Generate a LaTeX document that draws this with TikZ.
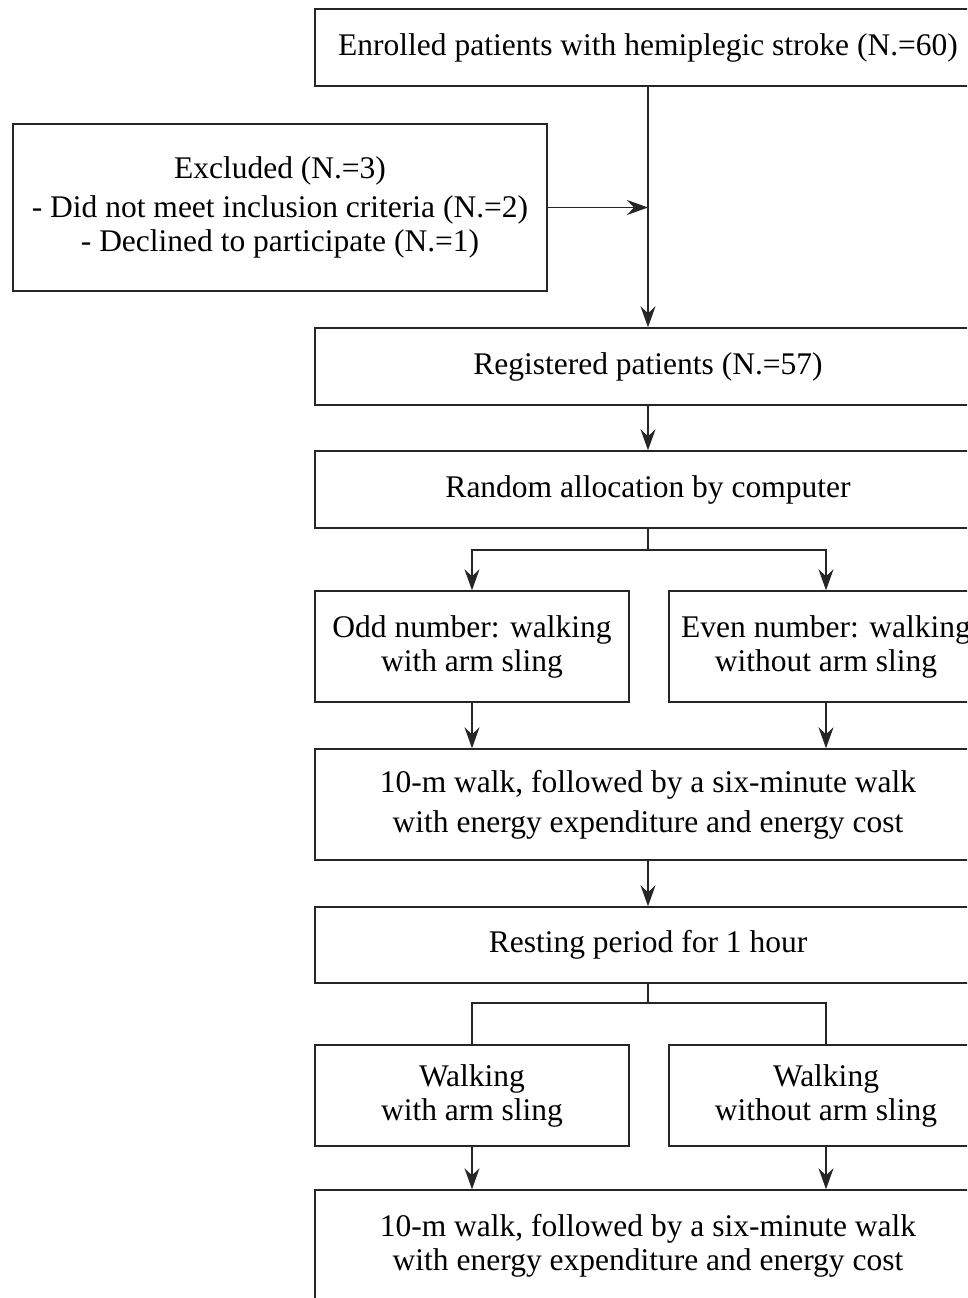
\documentclass[tikz,border=0pt]{standalone}
\usepackage{fontspec}
\setmainfont{Liberation Serif}
\usetikzlibrary{arrows.meta}
\begin{document}
\begin{tikzpicture}[x=1pt,y=-1pt,
  box/.style={draw=black!85,line width=1.4pt,rectangle,inner sep=0pt,align=center,
    font=\fontsize{31.5}{34}\selectfont},
  conn/.style={line width=1.4pt,draw=black!85},
  arr/.style={conn,-{Stealth[length=21pt,width=15pt,inset=7pt]}}]
\useasboundingbox (0,0) rectangle (967,1298);
\clip (0,0) rectangle (967,1298);
\node[box,minimum width=666pt,minimum height=77pt] (enr) at (648,47.5) {Enrolled patients with hemiplegic stroke (N.=60)};
\node[box,minimum width=534pt,minimum height=167pt] (exc) at (280,207.5) {Excluded (N.=3)\\[5pt]- Did not meet inclusion criteria (N.=2)\\- Declined to participate (N.=1)};
\node[box,minimum width=666pt,minimum height=77pt] (reg) at (648,366.5) {Registered patients (N.=57)};
\node[box,minimum width=666pt,minimum height=77pt] (ran) at (648,489.5) {Random allocation by computer};
\node[box,minimum width=314pt,minimum height=111pt] (odd) at (472,646.5) {Odd number: walking\\with arm sling};
\node[box,minimum width=314pt,minimum height=111pt] (even) at (826,646.5) {Even number: walking\\without arm sling};
\node[box,minimum width=666pt,minimum height=111pt] (w1) at (648,804.5) {10-m walk, followed by a six-minute walk\\[6pt]with energy expenditure and energy cost};
\node[box,minimum width=666pt,minimum height=76pt] (rest) at (648,945) {Resting period for 1 hour};
\node[box,minimum width=314pt,minimum height=101pt] (wa) at (472,1095.5) {Walking\\with arm sling};
\node[box,minimum width=314pt,minimum height=101pt] (wb) at (826,1095.5) {Walking\\without arm sling};
\node[box,minimum width=666pt,minimum height=111pt] (w2) at (648,1245.5) {10-m walk, followed by a six-minute walk\\with energy expenditure and energy cost};
\coordinate (j1) at (enr.south |- exc.east);
\coordinate (s1) at (648,550);
\coordinate (s2) at (648,1003);
\draw[arr] (enr.south) -- (reg.north);
\draw[arr] (exc.east) -- (j1);
\draw[arr] (reg.south) -- (ran.north);
\draw[conn] (ran.south) -- (s1);
\draw[arr] (s1) -| (odd.north);
\draw[arr] (s1) -| (even.north);
\draw[arr] (odd.south) -- (odd.south |- w1.north);
\draw[arr] (even.south) -- (even.south |- w1.north);
\draw[arr] (w1.south) -- (rest.north);
\draw[conn] (rest.south) -- (s2);
\draw[conn] (s2) -| (wa.north);
\draw[conn] (s2) -| (wb.north);
\draw[arr] (wa.south) -- (wa.south |- w2.north);
\draw[arr] (wb.south) -- (wb.south |- w2.north);
\end{tikzpicture}
\end{document}
